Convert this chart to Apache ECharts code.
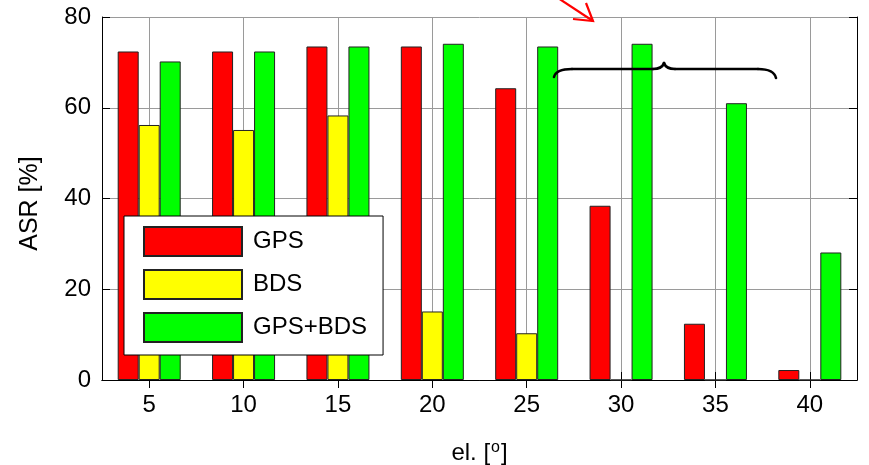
<!DOCTYPE html>
<html>
<head>
<meta charset="utf-8">
<script src="https://cdn.jsdelivr.net/npm/echarts@6/dist/echarts.min.js"></script>
<style>
  html, body { margin: 0; padding: 0; background: #fff; }
  #chart { width: 869px; height: 465px; }
</style>
</head>
<body>
<div id="chart"></div>
<script>
// Elevation cut-off angles (degrees)
const elevations = ['5', '10', '15', '20', '25', '30', '35', '40'];
// Ambiguity success rate [%] per constellation
const gpsASR    = [72.4, 72.4, 73.5, 73.5, 64.3, 38.4, 12.4, 2.2];
const bdsASR    = [56.2, 55.1, 58.3, 15.1, 10.3, 0, 0, 0];
const gpsBdsASR = [70.2, 72.4, 73.5, 74.1, 73.5, 74.1, 61.0, 28.1];
const yTicks = { min: 0, max: 80, interval: 20 };

const FONT = '"Liberation Sans", Arial, Helvetica, sans-serif';
const chart = echarts.init(document.getElementById('chart'), null, { renderer: 'canvas' });

const barStyle = (color) => ({ color: color, borderColor: '#222', borderWidth: 1 });

// black stroke pieces of the curly brace
const braceStroke = { stroke: '#000', lineWidth: 2.6, fill: null, lineCap: 'round' };
const bracePieces = [
  { type: 'bezierCurve', shape: { x1: 554, y1: 77, cpx1: 556, cpy1: 69, x2: 572, y2: 69 } },
  { type: 'line', shape: { x1: 572, y1: 69, x2: 653, y2: 69 } },
  { type: 'bezierCurve', shape: { x1: 653, y1: 69, cpx1: 662, cpy1: 69, x2: 664, y2: 63 } },
  { type: 'bezierCurve', shape: { x1: 664, y1: 63, cpx1: 666, cpy1: 69, x2: 675, y2: 69 } },
  { type: 'line', shape: { x1: 675, y1: 69, x2: 758, y2: 69 } },
  { type: 'bezierCurve', shape: { x1: 758, y1: 69, cpx1: 774, cpy1: 69, x2: 776, y2: 78 } }
].map(p => Object.assign({ z: 100, style: braceStroke }, p));

chart.setOption({
  animation: false,
  backgroundColor: '#ffffff',
  textStyle: { fontFamily: FONT, color: '#000' },
  grid: { left: 102, right: 12, top: 17, bottom: 85, containLabel: false, outerBoundsMode: 'none' },
  xAxis: [
    {
      type: 'category',
      data: elevations,
      position: 'bottom',
      boundaryGap: true,
      name: '{a|el. [}{s|o}{a|]}',
      nameLocation: 'middle',
      nameGap: 60,
      nameTextStyle: {
        rich: {
          a: { fontFamily: FONT, fontSize: 24, color: '#000' },
          s: { fontFamily: FONT, fontSize: 16, color: '#000', padding: [0, 1, 11, 1] }
        }
      },
      axisLine: { show: true, lineStyle: { color: '#000', width: 1 } },
      axisTick: { show: true, inside: true, length: 8, alignWithLabel: true, lineStyle: { color: '#000' } },
      axisLabel: { fontFamily: FONT, fontSize: 24, color: '#000', margin: 13 },
      splitLine: { show: true, alignWithLabel: true, lineStyle: { color: '#9a9a9a', width: 1 } }
    },
    {
      type: 'category',
      data: elevations,
      position: 'top',
      boundaryGap: true,
      axisLine: { show: true, lineStyle: { color: '#000', width: 1 } },
      axisTick: { show: true, inside: true, length: 8, alignWithLabel: true, lineStyle: { color: '#000' } },
      axisLabel: { show: false },
      splitLine: { show: false }
    }
  ],
  yAxis: [
    {
      type: 'value',
      min: yTicks.min, max: yTicks.max, interval: yTicks.interval,
      position: 'left',
      name: 'ASR [%]',
      nameLocation: 'middle',
      nameGap: 59,
      nameTextStyle: { fontFamily: FONT, fontSize: 25, color: '#000', padding: [0, 10, 0, 0] },
      axisLine: { show: true, lineStyle: { color: '#000', width: 1 } },
      axisTick: { show: true, inside: true, length: 8, lineStyle: { color: '#000' } },
      axisLabel: { fontFamily: FONT, fontSize: 24, color: '#000', margin: 11 },
      splitLine: { show: true, lineStyle: { color: '#9a9a9a', width: 1 } }
    },
    {
      type: 'value',
      min: yTicks.min, max: yTicks.max, interval: yTicks.interval,
      position: 'right',
      axisLine: { show: true, lineStyle: { color: '#000', width: 1 } },
      axisTick: { show: true, inside: true, length: 8, lineStyle: { color: '#000' } },
      axisLabel: { show: false },
      splitLine: { show: false }
    }
  ],
  legend: {
    data: ['GPS', 'BDS', 'GPS+BDS'],
    orient: 'vertical',
    left: 124,
    top: 216,
    icon: 'rect',
    itemWidth: 98,
    itemHeight: 29,
    itemGap: 12,
    padding: [10, 16, 12, 19],
    backgroundColor: '#fff',
    borderColor: '#000',
    borderWidth: 1,
    selectedMode: false,
    textStyle: { fontFamily: FONT, fontSize: 24, color: '#000', padding: [0, 0, 0, 6] }
  },
  series: [
    { name: 'GPS', type: 'bar', data: gpsASR, barWidth: 21, barGap: '0%', itemStyle: barStyle('#ff0000') },
    { name: 'BDS', type: 'bar', data: bdsASR, barWidth: 21, barGap: '0%', itemStyle: barStyle('#ffff00') },
    { name: 'GPS+BDS', type: 'bar', data: gpsBdsASR, barWidth: 21, barGap: '0%', itemStyle: barStyle('#00ff00') }
  ],
  graphic: [
    // red pointer arrow at the top
    {
      type: 'polyline', z: 100,
      shape: { points: [[558, -2], [593, 21]] },
      style: { stroke: '#ff0000', lineWidth: 2.2, fill: null }
    },
    {
      type: 'polyline', z: 100,
      shape: { points: [[573, 19], [593, 21], [586, 3]] },
      style: { stroke: '#ff0000', lineWidth: 2.2, fill: null }
    }
  ].concat(bracePieces)
});
</script>
</body>
</html>
